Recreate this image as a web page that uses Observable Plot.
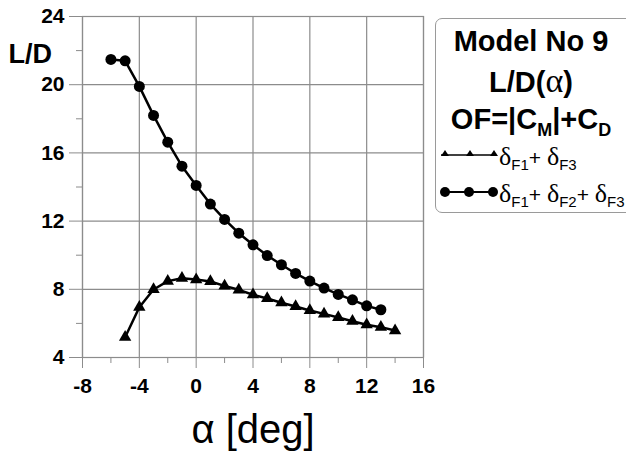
<!DOCTYPE html>
<html>
<head>
<meta charset="utf-8">
<script src="https://cdn.jsdelivr.net/npm/d3@7"></script>
<script src="https://cdn.jsdelivr.net/npm/@observablehq/plot@0.6"></script>
<style>
  html, body { margin: 0; padding: 0; background: #fff; }
  #wrap { position: relative; width: 626px; height: 458px; overflow: hidden; font-family: "Liberation Sans", Arial, sans-serif; }
  #chart { position: absolute; left: 0; top: 0; }
  #legend { position: absolute; left: 435px; top: 18px; width: 210px; height: 195px; border: 1.5px solid #9a9a9a; border-radius: 7px; box-sizing: border-box; background: #fff; }
  .lt { position: absolute; left: 0; width: 190px; text-align: center; font-weight: bold; font-size: 29px; color: #000; white-space: nowrap; line-height: 1; }
  .row { position: absolute; left: 3px; white-space: nowrap; }
  .row svg { position: absolute; left: 0; }
  .row .txt { position: absolute; left: 60px; font-size: 21px; font-family: "Liberation Sans", Arial, sans-serif; line-height: 1; }
  .g { font-family: "Liberation Serif", "Times New Roman", serif; font-size: 26px; }
  .row sub { font-size: 15px; vertical-align: -5px; line-height: 0; }
  .lt sub { font-size: 18px; vertical-align: -7px; line-height: 0; }
</style>
</head>
<body>
<div id="wrap">
  <div id="chart"></div>
  <div id="legend"></div>
</div>
<script>
// Data
const alphaTri = [-5, -4, -3, -2, -1, 0, 1, 2, 3, 4, 5, 6, 7, 8, 9, 10, 11, 12, 13, 14];
const ldTri = [5.19, 6.95, 7.99, 8.48, 8.65, 8.57, 8.46, 8.2, 7.97, 7.68, 7.46, 7.21, 6.99, 6.76, 6.56, 6.35, 6.13, 5.92, 5.78, 5.58];
const alphaCirc = [-6, -5, -4, -3, -2, -1, 0, 1, 2, 3, 4, 5, 6, 7, 8, 9, 10, 11, 12, 13];
const ldCirc = [21.48, 21.4, 19.9, 18.2, 16.63, 15.22, 14.09, 13.0, 12.1, 11.29, 10.61, 9.98, 9.44, 8.93, 8.48, 8.07, 7.7, 7.38, 7.03, 6.8];
const xMajor = [-8, -4, 0, 4, 8, 12, 16];
const xMinor = [-6, -2, 2, 6, 10, 14];
const yMajor = [4, 8, 12, 16, 20, 24];
const yMinor = [6, 10, 14, 18, 22];
const seriesTri = "δF1+ δF3";
const seriesCirc = "δF1+ δF2+ δF3";

const tri = alphaTri.map((a, i) => ({a, v: ldTri[i]}));
const circ = alphaCirc.map((a, i) => ({a, v: ldCirc[i]}));

const gray = "#8c8c8c";
const plot = Plot.plot({
  width: 626,
  height: 458,
  marginLeft: 82,
  marginRight: 203,
  marginTop: 16,
  marginBottom: 101,
  style: {fontFamily: "'Liberation Sans', Arial, sans-serif", fontSize: "21px", fontWeight: "bold", background: "transparent", overflow: "visible"},
  x: {domain: [-8, 16]},
  y: {domain: [4, 24]},
  marks: [
    Plot.gridX(xMajor, {stroke: gray, strokeOpacity: 1, strokeWidth: 1.2}),
    Plot.gridY(yMajor, {stroke: gray, strokeOpacity: 1, strokeWidth: 1.2}),
    Plot.frame({stroke: gray, strokeWidth: 1.2}),
    Plot.axisX(xMajor, {anchor: "bottom", tickSize: 11, tickPadding: 10, stroke: gray, strokeOpacity: 1, fill: "#000", fontSize: 21,
      tickFormat: d => String(d).replace("−", "-"), label: null}),
    Plot.axisX(xMinor, {anchor: "bottom", tickSize: 6, stroke: gray, strokeOpacity: 1, tickFormat: () => "", label: null}),
    Plot.axisY(yMajor, {anchor: "left", tickSize: 13, tickPadding: 5, stroke: gray, strokeOpacity: 1, fill: "#000", fontSize: 21,
      tickFormat: d => String(d), label: null}),
    Plot.axisY(yMinor, {anchor: "left", tickSize: 6, stroke: gray, strokeOpacity: 1, tickFormat: () => "", label: null}),
    Plot.line(tri, {x: "a", y: "v", stroke: "#000", strokeWidth: 2.5}),
    Plot.dot(tri, {x: "a", y: "v", symbol: "triangle", r: 4.6, fill: "#000", stroke: "none"}),
    Plot.line(circ, {x: "a", y: "v", stroke: "#000", strokeWidth: 2.5}),
    Plot.dot(circ, {x: "a", y: "v", r: 5.5, fill: "#000", stroke: "none"}),
    Plot.text(["L/D"], {frameAnchor: "top-left", dx: -74, dy: 46, text: d => d, textAnchor: "start", lineAnchor: "bottom", fontSize: 27, fontWeight: "bold", fill: "#000"}),
    Plot.text(["α [deg]"], {x: [4], frameAnchor: "bottom", dy: 85, text: d => d, textAnchor: "middle", lineAnchor: "bottom", fontSize: 40, fontWeight: "normal", fill: "#000"})
  ]
});
document.getElementById("chart").appendChild(plot);

// Legend
const lg = document.getElementById("legend");
function sub(s) { return s.replace(/δF(\d)/g, '<span class="g">δ</span><sub>F$1</sub>'); }
lg.innerHTML = `
  <div class="lt" style="top:8px">Model No 9</div>
  <div class="lt" style="top:48px">L/D(<span style="font-family:'Liberation Serif',serif;font-weight:normal;font-size:34px;line-height:0.8">α</span>)</div>
  <div class="lt" style="top:86px">OF=|C<sub>M</sub>|+C<sub>D</sub></div>
  <div class="row" style="top:125px">
    <svg width="62" height="24"><line x1="2" y1="11" x2="55" y2="11" stroke="#000" stroke-width="1.6"/>
      <path d="M6,6 L10,12 L2,12Z" fill="#000"/>
      <path d="M31,6 L35,12 L27,12Z" fill="#000"/>
      <path d="M55,6 L59,12 L51,12Z" fill="#000"/></svg>
    <div class="txt" style="top:0px">${sub(seriesTri)}</div>
  </div>
  <div class="row" style="top:162px">
    <svg width="62" height="24"><line x1="6" y1="11" x2="54" y2="11" stroke="#000" stroke-width="2.2"/>
      <circle cx="6" cy="11" r="5" fill="#000"/><circle cx="30" cy="11" r="5" fill="#000"/><circle cx="54" cy="11" r="5" fill="#000"/></svg>
    <div class="txt" style="top:0px">${sub(seriesCirc)}</div>
  </div>`;
</script>
</body>
</html>
